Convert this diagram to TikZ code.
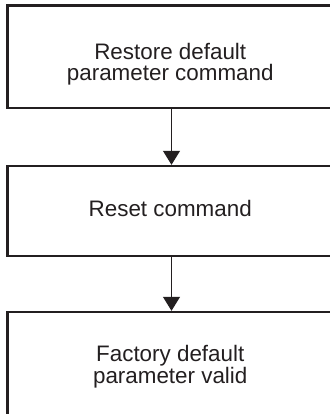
\documentclass[tikz,border=0pt]{standalone}
\usepackage{fontspec}
\setmainfont{Liberation Sans}
\usetikzlibrary{arrows.meta}
\definecolor{ink}{HTML}{231F20}
\begin{document}
\begin{tikzpicture}[x=1pt,y=-1pt,
  box/.style={draw=ink, line width=2.4pt, minimum width=328pt, inner sep=0pt},
  txt/.style={text=ink, align=center, inner sep=0pt, font=\fontsize{22.4pt}{21.6pt}\selectfont},
  flow/.style={draw=ink, line width=1.2pt, -{Triangle[width=17pt,length=14pt]}}]
\useasboundingbox (0,0) rectangle (329,414);
\node[box, minimum height=102.5pt] (b1) at (171.5,56.75) {};
\node[box, minimum height=90pt] (b2) at (171.5,211) {};
\node[box, minimum height=108pt] (b3) at (171.5,366) {};
\node[txt] (t1) at (170.25,64.3) {Restore default\\parameter command};
\node[txt] (t2) at (170.25,208.5) {Reset command};
\node[txt] (t3) at (170.25,366.7) {Factory default\\parameter valid};
\draw[flow] (b1.south) -- (b2.north);
\draw[flow] (b2.south) -- (b3.north);
\end{tikzpicture}
\end{document}
